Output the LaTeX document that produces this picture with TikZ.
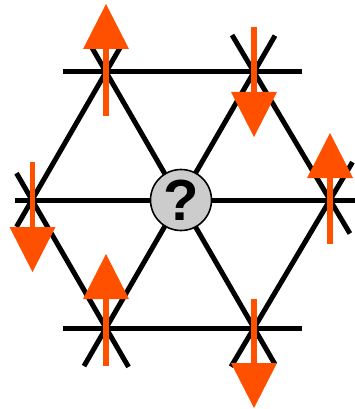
\documentclass[tikz,border=0pt]{standalone}
\usepackage{fontspec}
\setmainfont{Liberation Sans}
\usetikzlibrary{arrows.meta}
\definecolor{spincol}{RGB}{255,80,0}
\definecolor{sitegray}{RGB}{204,204,204}
\tikzset{
  bond/.style={line width=5pt, black},
  spinarrow/.style={draw=spincol, line width=5.5pt,
    -{Triangle[length=45pt,width=46pt,line width=0pt,fill=spincol]}},
  qsite/.style={circle, draw=black, line width=1.6pt, fill=sitegray,
    minimum size=61pt, inner sep=0pt,
    font=\fontsize{58}{58}\selectfont\bfseries}
}
\begin{document}
\begin{tikzpicture}[x=1pt,y=-1pt]
\useasboundingbox (0,0) rectangle (354,409);
% lattice sites
\coordinate (C)  at (181,200);
\coordinate (TL) at (106,72);
\coordinate (TR) at (254,72);
\coordinate (L)  at (32,200);
\coordinate (R)  at (330,200);
\coordinate (BL) at (106,328);
\coordinate (BR) at (254,328);
% bonds
\draw[bond, shorten <=-43pt, shorten >=-48pt] (TL) -- (TR);
\draw[bond, shorten <=-43pt, shorten >=-48pt] (BL) -- (BR);
\draw[bond, shorten <=-17pt, shorten >=-30pt] (L) -- (R);
\draw[bond, shorten <=-28pt, shorten >=-42pt] (TL) -- (BR);
\draw[bond, shorten <=-44pt, shorten >=-42pt] (BL) -- (TR);
\draw[bond, shorten <=-31pt, shorten >=-29pt] (L) -- (TL);
\draw[bond, shorten <=-31pt, shorten >=-45pt] (L) -- (BL);
\draw[bond, shorten <=-43pt, shorten >=-39pt] (TR) -- (R);
\draw[bond, shorten <=-44pt, shorten >=-45pt] (R) -- (BR);
% central site
\node[qsite] (Q) at (C) {\raisebox{-1pt}{?}};
% spins
\coordinate (A0) at (106,116); \coordinate (A1) at (106,4);
\coordinate (B0) at (254,27);  \coordinate (B1) at (254,137);
\coordinate (C0) at (32.5,162); \coordinate (C1) at (32.5,272);
\coordinate (D0) at (330,244); \coordinate (D1) at (330,133);
\coordinate (E0) at (106,366); \coordinate (E1) at (106,254);
\coordinate (F0) at (254,299); \coordinate (F1) at (254,408);
\draw[spinarrow] (A0) -- (A1);
\draw[spinarrow] (B0) -- (B1);
\draw[spinarrow] (C0) -- (C1);
\draw[spinarrow] (D0) -- (D1);
\draw[spinarrow] (E0) -- (E1);
\draw[spinarrow] (F0) -- (F1);
\end{tikzpicture}
\end{document}
